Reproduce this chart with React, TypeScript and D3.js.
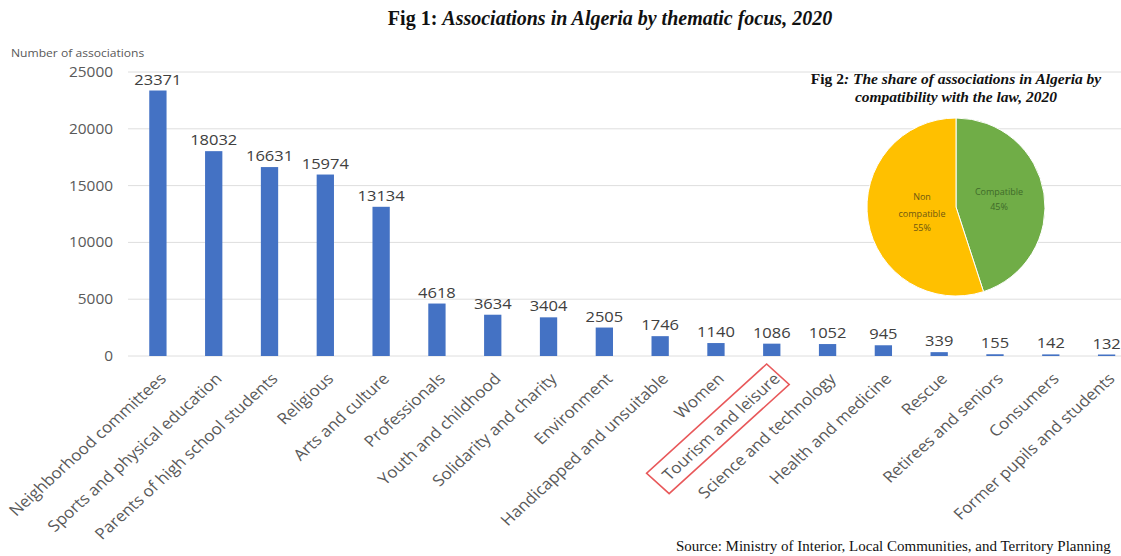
import React, { useEffect, useRef } from "react";
import * as d3 from "d3";

const categories = [
  "Neighborhood committees",
  "Sports and physical education",
  "Parents of high school students",
  "Religious",
  "Arts and culture",
  "Professionals",
  "Youth and childhood",
  "Solidarity and charity",
  "Environment",
  "Handicapped and unsuitable",
  "Women",
  "Tourism and leisure",
  "Science and technology",
  "Health and medicine",
  "Rescue",
  "Retirees and seniors",
  "Consumers",
  "Former pupils and students",
];
const counts = [23371, 18032, 16631, 15974, 13134, 4618, 3634, 3404, 2505, 1746, 1140, 1086, 1052, 945, 339, 155, 142, 132];
const yTicks = [0, 5000, 10000, 15000, 20000, 25000];
const pieNames = ["Compatible", "Non compatible"];
const pieShares = [45, 55];
const highlighted = "Tourism and leisure";

const SANS = "'Open Sans', 'DejaVu Sans', sans-serif";
const SERIF = "'Liberation Serif', 'Times New Roman', serif";

export default function App() {
  const ref = useRef<SVGSVGElement>(null);

  useEffect(() => {
    const W = 1121;
    const svg = d3.select(ref.current);
    svg.selectAll("*").remove();
    const SX = 1.1;

    const x = d3
      .scaleBand<string>()
      .domain(categories)
      .range([130, 1134.5])
      .paddingInner(0.69)
      .paddingOuter(0.345);
    const y = d3.scaleLinear().domain([0, 25000]).range([356, 72]);

    // title
    const t = svg
      .append("text")
      .attr("x", 610)
      .attr("y", 25)
      .attr("text-anchor", "middle")
      .attr("font-family", SERIF)
      .attr("font-size", 20)
      .attr("font-weight", "bold")
      .attr("fill", "#111");
    t.append("tspan").text("Fig 1: ");
    t.append("tspan").attr("font-style", "italic").text("Associations in Algeria by thematic focus, 2020");

    // axis title
    svg
      .append("text")
      .attr("transform", `translate(11,57) scale(${SX},1)`)
      .attr("font-family", SANS)
      .attr("font-size", 11)
      .attr("fill", "#595959")
      .text("Number of associations");

    // gridlines
    svg
      .append("g")
      .selectAll("line")
      .data(yTicks)
      .join("line")
      .attr("x1", 128)
      .attr("x2", W)
      .attr("y1", (d) => y(d))
      .attr("y2", (d) => y(d))
      .attr("stroke", "#dedede")
      .attr("stroke-width", 1);

    // y tick labels
    svg
      .append("g")
      .selectAll("text")
      .data(yTicks)
      .join("text")
      .attr("transform", (d) => `translate(113,${y(d)}) scale(${SX},1)`)
      .attr("text-anchor", "end")
      .attr("dy", "0.35em")
      .attr("font-family", SANS)
      .attr("font-size", 14)
      .attr("fill", "#595959")
      .text((d) => String(d));

    // bars
    const data = categories.map((c, i) => ({ c, v: counts[i] }));
    svg
      .append("g")
      .selectAll("rect")
      .data(data)
      .join("rect")
      .attr("x", (d) => x(d.c)!)
      .attr("width", x.bandwidth())
      .attr("y", (d) => y(d.v))
      .attr("height", (d) => y(0) - y(d.v))
      .attr("fill", "#4472C4");

    // value labels
    svg
      .append("g")
      .selectAll("text")
      .data(data)
      .join("text")
      .attr("transform", (d) => `translate(${x(d.c)! + x.bandwidth() / 2},${y(d.v) - 6}) scale(${SX},1)`)
      .attr("text-anchor", "middle")
      .attr("font-family", SANS)
      .attr("font-size", 15)
      .attr("fill", "#404040")
      .text((d) => String(d.v));

    // category labels
    const cg = svg
      .append("g")
      .selectAll("g")
      .data(categories)
      .join("g")
      .attr("transform", (d) => `translate(${x(d)! + x.bandwidth() / 2 + 5},376) scale(${SX},1) rotate(-45)`);
    cg.append("text")
      .attr("text-anchor", "end")
      .attr("dy", "0.35em")
      .attr("font-family", SANS)
      .attr("font-size", 15.5)
      .attr("fill", "#595959")
      .text((d) => d);
    cg.filter((d) => d === highlighted).each(function () {
      const g = d3.select(this);
      const node = g.select("text").node() as SVGTextElement;
      const L = node.getComputedTextLength();
      g.append("rect")
        .attr("x", -L - 9)
        .attr("y", -15)
        .attr("width", L + 11)
        .attr("height", 29)
        .attr("fill", "none")
        .attr("stroke", "#e8585a")
        .attr("stroke-width", 1.5);
    });

    // source
    svg
      .append("text")
      .attr("x", 676)
      .attr("y", 551)
      .attr("font-family", SERIF)
      .attr("font-size", 15)
      .attr("fill", "#111")
      .text("Source: Ministry of Interior, Local Communities, and Territory Planning");

    // pie title
    const cx = 956;
    const pt1 = svg
      .append("text")
      .attr("x", cx)
      .attr("y", 84)
      .attr("text-anchor", "middle")
      .attr("font-family", SERIF)
      .attr("font-size", 15.5)
      .attr("font-weight", "bold")
      .attr("fill", "#111");
    pt1.append("tspan").text("Fig 2");
    pt1.append("tspan").attr("font-style", "italic").text(": The share of associations in Algeria by");
    svg
      .append("text")
      .attr("x", cx)
      .attr("y", 102)
      .attr("text-anchor", "middle")
      .attr("font-family", SERIF)
      .attr("font-size", 15.5)
      .attr("font-weight", "bold")
      .attr("font-style", "italic")
      .attr("fill", "#111")
      .text("compatibility with the law, 2020");

    // pie
    const pieColors = ["#70AD47", "#FFC000"];
    const arcs = d3.pie<number>().sort(null).value((d) => d)(pieShares);
    const arc = d3.arc<d3.PieArcDatum<number>>().innerRadius(0).outerRadius(89);
    const pg = svg.append("g").attr("transform", `translate(${cx},207)`);
    pg.selectAll("path")
      .data(arcs)
      .join("path")
      .attr("d", arc)
      .attr("fill", (_d, i) => pieColors[i])
      .attr("stroke", "#ffffff")
      .attr("stroke-width", 1);

    const pieText = [
      { lines: [pieNames[0], pieShares[0] + "%"], x: 43, ys: [-15, 0], fill: "#3f6a2a" },
      { lines: ["Non", "compatible", pieShares[1] + "%"], x: -34, ys: [-10, 7, 21], fill: "#6e5812" },
    ];
    pieText.forEach((p) => {
      const tx = pg
        .append("text")
        .attr("text-anchor", "middle")
        .attr("font-family", SANS)
        .attr("font-size", 9)
        .attr("fill", p.fill);
      p.lines.forEach((l, j) => {
        tx.append("tspan").attr("x", p.x).attr("y", p.ys[j]).attr("dy", "0.35em").text(l);
      });
    });
  }, []);

  return (
    <svg
      ref={ref}
      width={1121}
      height={556}
      style={{ position: "absolute", left: 0, top: 0, background: "#fff" }}
    />
  );
}
